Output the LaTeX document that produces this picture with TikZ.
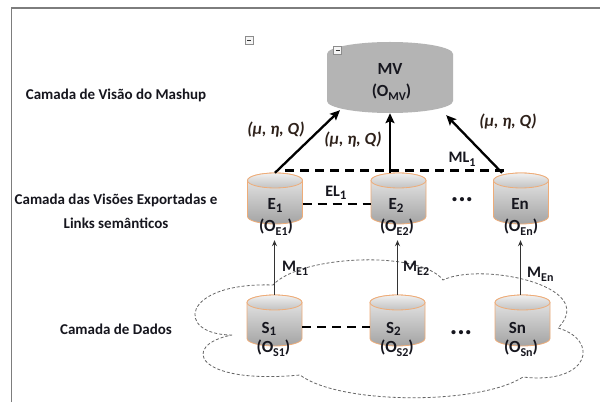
\documentclass[tikz,border=0pt]{standalone}
\usepackage{fontspec}
\setmainfont{Carlito}
\usetikzlibrary{arrows.meta,calc}
\definecolor{cylline}{RGB}{238,172,120}
\definecolor{mvgray}{RGB}{180,180,180}
\definecolor{txt}{RGB}{22,22,30}
\definecolor{partxt}{RGB}{45,32,25}
\definecolor{framegray}{RGB}{125,125,125}
\newcommand\lsub[1]{\raisebox{-0.3ex}{\fontsize{13}{13}\selectfont #1}}
\newcommand\ssub[1]{\raisebox{-0.45ex}{\fontsize{12}{12}\selectfont #1}}
\tikzset{
 cylbox/.style={rectangle, inner sep=0pt, minimum width=55pt, minimum height=51pt},
 cylbody/.style={top color=black!8, bottom color=black!36, draw=cylline, line width=0.8pt},
 cyltop/.style={top color=black!6, bottom color=black!24, draw=cylline, line width=0.8pt},
 lbl/.style={inner sep=0pt, anchor=base, font=\fontsize{15}{18}\selectfont\bfseries, text=txt},
 clbl/.style={lbl, font=\fontsize{17}{20}\selectfont\bfseries},
 klbl/.style={lbl, font=\fontsize{16}{19}\selectfont\bfseries},
 param/.style={inner sep=0pt, anchor=base, font=\fontsize{17}{20}\selectfont\bfseries\itshape, text=partxt},
 bigarrow/.style={line width=2.3pt, -{Stealth[length=10pt,width=9pt,inset=2pt]}},
 linkdash/.style={line width=2.6pt, dash pattern=on 9pt off 6pt},
 maparrow/.style={line width=0.9pt, draw=black!80, -{Stealth[length=6pt,width=5pt]}},
 cloudline/.style={draw=black!60, line width=0.8pt, dash pattern=on 3pt off 2pt},
 framel/.style={draw=framegray, line width=1.3pt},
 minusbox/.style={rectangle, draw=black!45, fill=black!4, line width=0.5pt, minimum size=8pt, inner sep=0pt,
   path picture={\draw[line width=1pt, black!80] ([xshift=2pt]path picture bounding box.west) -- ([xshift=-2pt]path picture bounding box.east);}}
}
\newcommand\dbcyl[3]{%
 \node[cylbox] (#1) at (#2,#3) {};
 \path[cylbody] ($(#1.center)+(-27.5,18)$) -- ($(#1.center)+(-27.5,-18)$)
   arc[start angle=180, end angle=360, x radius=27.5pt, y radius=7.5pt]
   -- ($(#1.center)+(27.5,18)$)
   arc[start angle=0, end angle=180, x radius=27.5pt, y radius=7.5pt] -- cycle;
 \path[cyltop] ($(#1.center)+(0,18)$) ellipse[x radius=27.5pt, y radius=7.5pt];
}
\begin{document}
\begin{tikzpicture}[x=1pt,y=1pt]
\useasboundingbox (0,0) rectangle (600,402);
\fill[white] (0,0) rectangle (600,402);
% frame
\draw[framel] (11.5,0) -- (11.5,394) -- (600,394);
% cloud
\draw[cloudline] (232,67) .. controls (175,67) and (180,120) .. (273,117)
  .. controls (300,147) and (420,152) .. (443,122)
  .. controls (480,140) and (600,117) .. (558,74)
  .. controls (600,62) and (590,17) .. (523,25)
  .. controls (480,-3) and (340,-3) .. (300,27)
  .. controls (195,17) and (180,57) .. (232,67);
% minus icon
\node[minusbox] (ic1) at (249,361.5) {};
% MV cylinder
\node[rectangle, inner sep=0pt, minimum width=126pt, minimum height=71pt] (MV) at (390,324.5) {};
\fill[mvgray] ($(MV.center)+(-63,23.5)$) -- ($(MV.center)+(-63,-23.5)$)
   arc[start angle=180, end angle=360, x radius=63pt, y radius=12pt]
   -- ($(MV.center)+(63,23.5)$)
   arc[start angle=0, end angle=180, x radius=63pt, y radius=12pt] -- cycle;
\node[minusbox] (ic2) at (337.5,351.5) {};
\node[clbl] (mvname) at (390,327) {MV};
\node[clbl] (mvont) at (391.5,305) {(O\ssub{MV})};
% E cylinders
\dbcyl{E1}{275}{203.5}
\dbcyl{E2}{398.5}{203.5}
\dbcyl{En}{521}{203.5}
% S cylinders
\dbcyl{S1}{274.5}{81.5}
\dbcyl{S2}{397.5}{81.5}
\dbcyl{Sn}{522.5}{81.5}
% links
\draw[linkdash] ($(E1.north)+(10,2)$) -- ($(En.north)+(-14,2)$);
\draw[linkdash] ([yshift=-5.5pt]E1.east) -- ([yshift=-5.5pt]E2.west);
\draw[linkdash] ([yshift=-6.5pt]S1.east) -- ([yshift=-6.5pt]S2.west);
% arrows to MV
\draw[bigarrow] (E1.north) -- ($(MV.south)+(-50,3)$);
\draw[bigarrow] (E2.north -| MV.south) -- (MV.south);
\draw[bigarrow] ($(En.north)+(-19,0)$) -- ($(MV.south east)+(-7,-2)$);
% mapping arrows
\draw[maparrow] (S1.north) -- ([yshift=-16pt]S1.north |- E1.south);
\draw[maparrow] (S2.north) -- ([yshift=-16pt]S2.north |- E2.south);
\draw[maparrow] ([xshift=-2pt]Sn.north) -- ([yshift=-16pt,xshift=-2pt]Sn.north |- En.south);
% cylinder labels
\node[clbl] (e1a) at (275,192) {E\lsub{1}};
\node[clbl] (e1b) at (276,170.5) {(O\ssub{E1})};
\node[clbl] (e2a) at (396,192) {E\lsub{2}};
\node[clbl] (e2b) at (397,170.5) {(O\ssub{E2})};
\node[clbl] (ena) at (520,192) {En};
\node[clbl] (enb) at (521,170.5) {(O\ssub{En})};
\node[clbl] (s1a) at (269,69) {S\lsub{1}};
\node[clbl] (s1b) at (273.5,49) {(O\ssub{S1})};
\node[clbl] (s2a) at (393.5,69) {S\lsub{2}};
\node[clbl] (s2b) at (397,49) {(O\ssub{S2})};
\node[clbl] (sna) at (517.5,69) {Sn};
\node[clbl] (snb) at (521,49) {(O\ssub{Sn})};
% dots
\node[lbl, font=\fontsize{28}{28}\selectfont\bfseries] (dotsE) at (462,200) {...};
\node[lbl, font=\fontsize{28}{28}\selectfont\bfseries] (dotsS) at (461,67) {...};
% link labels
\node[klbl] (el1) at (336,205) {EL\lsub{1}};
\node[klbl] (ml1) at (462,239) {ML\ssub{1}};
\node[klbl, anchor=base west] (me1) at (282,130) {M\ssub{E1}};
\node[klbl, anchor=base west] (me2) at (403,130) {M\ssub{E2}};
\node[klbl, anchor=base west] (men) at (527,124) {M\ssub{En}};
% parameters
\node[param] (p1) at (276,267) {(μ, η, Q)};
\node[param] (p2) at (353,257) {(μ, η, Q)};
\node[param] (p3) at (508,275) {(μ, η, Q)};
% layer names
\node[lbl] (lay1) at (116,302.7) {Camada de Visão do Mashup};
\node[lbl] (lay2a) at (116,197) {Camada das Visões Exportadas e};
\node[lbl] (lay2b) at (116,173.7) {Links semânticos};
\node[lbl] (lay3) at (116,67) {Camada de Dados};
\end{tikzpicture}
\end{document}
